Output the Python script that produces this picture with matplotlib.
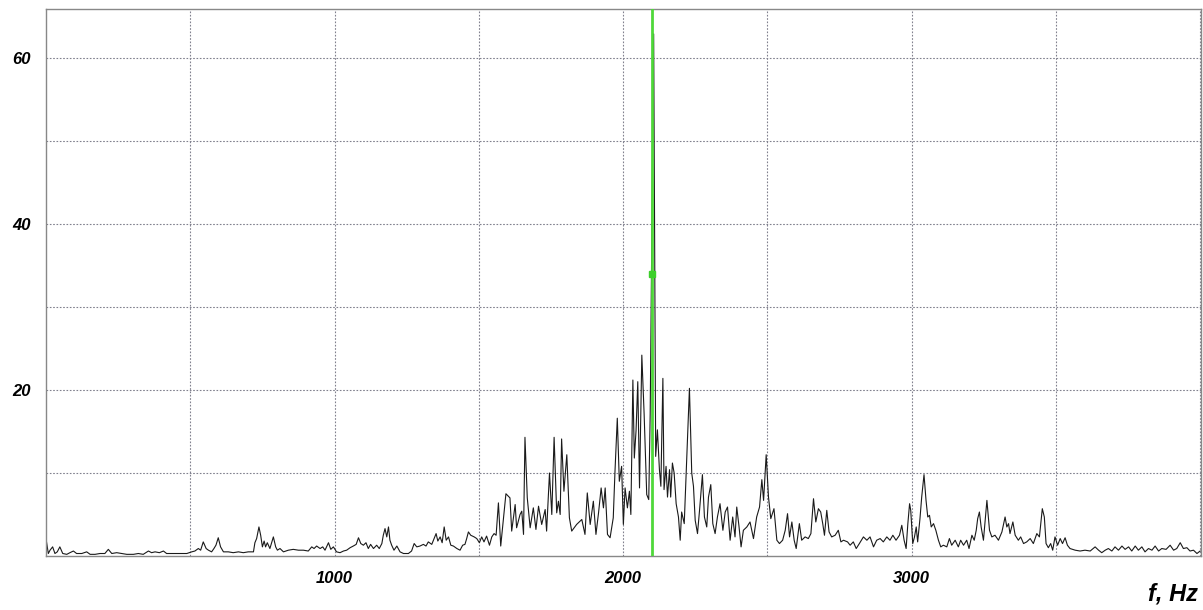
import numpy as np
import matplotlib
matplotlib.use("Agg")
import matplotlib.pyplot as plt

# spectrum vertices (Hz, amplitude), in pieces
f_low = [0, 8, 14, 23, 31, 39, 48, 58, 72, 83, 95, 106, 124, 141, 153, 170, 187, 204,
         216, 228, 245, 262, 280, 303, 320, 337, 355, 366, 378, 393, 407, 418, 436, 453,
         470, 488, 505, 516, 528, 536, 545, 555, 563, 574, 582, 589, 597, 605, 615, 632,
         649, 667, 684, 701, 719, 724, 730, 738, 744, 750, 756, 761, 767, 776, 788, 796,
         802, 811, 823, 840, 857, 875, 892, 909, 921, 929, 938, 950, 959, 967, 979, 987,
         996, 1007, 1019]
a_low = [2.1, 0.3, 0.7, 1.1, 0.3, 0.5, 1.1, 0.3, 0.2, 0.4, 0.6, 0.3, 0.3, 0.5, 0.2, 0.2,
         0.3, 0.3, 0.8, 0.3, 0.4, 0.3, 0.2, 0.2, 0.3, 0.2, 0.6, 0.4, 0.5, 0.4, 0.6, 0.3,
         0.3, 0.3, 0.3, 0.3, 0.5, 0.6, 0.9, 0.7, 1.7, 0.9, 0.7, 0.5, 0.9, 1.3, 2.2, 1.1,
         0.5, 0.5, 0.4, 0.5, 0.4, 0.5, 0.5, 1.6, 2.1, 3.5, 2.5, 1.1, 1.8, 1.1, 1.6, 0.9,
         2.3, 1.1, 0.7, 0.9, 0.5, 0.7, 0.8, 0.7, 0.7, 0.6, 1.1, 0.9, 1.2, 0.9, 1.1, 0.7,
         1.6, 0.8, 1.1, 0.5, 0.4]

f_rise = [1031, 1042, 1054, 1065, 1075, 1083, 1091, 1100, 1109, 1117, 1125, 1135, 1146,
          1155, 1164, 1169, 1175, 1181, 1187, 1192, 1198, 1206, 1216, 1227, 1239, 1256,
          1267, 1276, 1285, 1296, 1308, 1317, 1325, 1337, 1345, 1352, 1358, 1366, 1373,
          1380, 1387, 1395, 1403, 1412, 1424, 1435, 1444, 1452, 1458, 1464, 1472, 1484,
          1493, 1502, 1510, 1518, 1527, 1537, 1545, 1553, 1560]
a_rise = [0.6, 0.7, 1.0, 1.2, 1.4, 2.2, 1.5, 1.3, 1.6, 0.9, 1.4, 0.9, 1.3, 0.9, 1.5, 2.5,
          3.3, 2.3, 3.5, 1.9, 1.3, 0.7, 1.2, 0.5, 0.3, 0.3, 0.6, 1.5, 1.1, 1.2, 1.4, 1.2,
          1.7, 1.4, 2.1, 2.7, 1.8, 2.3, 1.6, 3.5, 1.9, 2.3, 1.3, 1.2, 0.9, 0.7, 1.3, 1.4,
          2.1, 2.9, 2.5, 2.3, 2.1, 1.6, 2.3, 1.7, 2.4, 1.3, 2.3, 2.7, 2.5]

f_peak = [1568, 1576, 1594, 1608, 1614, 1626, 1631, 1643, 1649, 1655, 1660, 1668, 1678,
          1689, 1698, 1707, 1718, 1730, 1735, 1745, 1753, 1761, 1770, 1776, 1782, 1787,
          1795, 1805, 1814, 1822, 1839, 1857, 1868, 1876, 1886, 1897, 1906, 1915, 1924,
          1932, 1938, 1946, 1955, 1966, 1972, 1980, 1987, 1995, 2001, 2007, 2015, 2022,
          2027, 2034, 2039, 2045, 2051, 2057, 2065, 2073, 2082, 2089, 2094, 2106, 2113,
          2119, 2126, 2131, 2138, 2142, 2149, 2154, 2161, 2165, 2171, 2177, 2184, 2192,
          2198, 2203, 2212, 2221, 2230, 2238, 2244, 2250, 2258, 2265, 2275, 2282, 2290,
          2296, 2304, 2311, 2319, 2327, 2336, 2346, 2354, 2362, 2371, 2380, 2388, 2394,
          2402, 2409, 2417, 2429, 2440, 2452, 2463, 2473, 2481, 2487, 2496, 2504, 2512]
a_peak = [6.4, 1.2, 7.5, 7.0, 3.0, 6.2, 3.4, 5.0, 5.4, 2.6, 14.3, 7.0, 3.4, 5.8, 3.2,
          6.0, 3.8, 5.6, 3.0, 10.0, 5.0, 14.3, 5.2, 6.6, 5.0, 14.1, 7.8, 12.2, 4.6, 3.0,
          3.8, 4.4, 2.6, 7.6, 3.8, 6.6, 2.6, 5.2, 8.2, 5.8, 8.2, 2.6, 2.2, 4.6, 10.2, 16.6,
          9.0, 10.8, 3.8, 8.2, 5.8, 7.8, 5.0, 21.2, 11.8, 15.1, 21.0, 8.2, 24.2, 17.1, 7.4,
          6.8, 17.1, 62.9, 12.0, 15.2, 10.4, 8.4, 21.4, 8.0, 10.8, 7.1, 10.4, 7.1, 11.2,
          10.0, 6.3, 4.7, 1.9, 5.3, 3.9, 12.0, 20.2, 10.0, 8.4, 4.3, 2.7, 5.5, 9.8, 4.7,
          3.5, 7.1, 8.6, 3.9, 2.7, 4.7, 6.3, 3.1, 5.3, 5.9, 1.9, 4.7, 2.3, 5.9, 3.5, 1.1,
          3.1, 3.5, 4.1, 2.1, 4.7, 5.9, 9.2, 6.7, 12.2, 7.1, 4.5]

f_tail = [2523, 2533, 2542, 2553, 2562, 2570, 2577, 2585, 2593, 2600, 2611, 2619, 2631,
          2642, 2651, 2660, 2668, 2677, 2685, 2692, 2698, 2706, 2714, 2723, 2735, 2746,
          2755, 2764, 2778, 2787, 2798, 2808, 2819, 2833, 2845, 2856, 2868, 2879, 2891,
          2902, 2914, 2925, 2935, 2946, 2958, 2966, 2974, 2981, 2987, 2993, 2997, 3004,
          3010, 3016, 3021, 3029, 3035, 3043, 3050, 3056, 3062, 3068, 3076, 3084, 3093,
          3101, 3110, 3122, 3131, 3139, 3151, 3162, 3170, 3180, 3191, 3199, 3209, 3217,
          3224, 3229, 3235, 3241, 3249, 3261, 3270, 3278, 3289, 3301, 3313, 3324, 3330,
          3336, 3341, 3351, 3359, 3370, 3378, 3388, 3399, 3411, 3422, 3434, 3443, 3453,
          3460, 3466, 3474, 3482, 3489, 3497, 3506, 3515, 3523, 3532, 3540, 3549]
a_tail = [5.7, 1.9, 1.5, 1.9, 3.1, 5.1, 2.3, 4.1, 1.9, 0.9, 3.9, 1.9, 2.3, 2.1, 2.7, 6.9,
          4.1, 5.7, 5.3, 3.9, 2.5, 5.5, 2.9, 2.3, 2.5, 3.1, 1.7, 1.9, 1.7, 1.3, 1.7, 0.9,
          1.5, 2.3, 1.9, 2.3, 1.1, 1.9, 2.1, 1.7, 2.3, 1.9, 2.5, 1.9, 2.5, 3.7, 1.9, 0.9,
          3.9, 6.3, 5.5, 1.5, 2.3, 3.5, 1.7, 4.5, 7.1, 9.8, 6.7, 4.7, 4.9, 3.5, 3.9, 3.1,
          1.9, 1.1, 1.3, 1.1, 2.1, 1.3, 1.9, 1.1, 1.9, 1.3, 1.9, 0.9, 2.5, 1.9, 3.1, 4.5,
          5.3, 3.5, 1.9, 6.7, 3.1, 2.3, 2.5, 1.9, 2.9, 4.7, 3.5, 3.9, 2.7, 4.1, 2.5, 1.9,
          2.3, 1.5, 1.7, 2.1, 1.5, 2.7, 2.3, 5.7, 4.7, 1.5, 1.0, 1.5, 0.7, 2.3, 1.3, 2.1,
          1.5, 2.2, 1.3, 0.9]

f_noise = [3567, 3584, 3601, 3619, 3636, 3648, 3659, 3671, 3682, 3694, 3705, 3717, 3729,
           3740, 3752, 3763, 3775, 3786, 3798, 3809, 3821, 3833, 3844, 3856, 3867, 3882,
           3896, 3908, 3919, 3931, 3942, 3954, 3965, 3977, 3989, 4000]
a_noise = [0.7, 0.6, 0.7, 0.6, 1.1, 0.7, 0.4, 0.7, 0.9, 0.6, 1.1, 0.7, 1.2, 0.8, 1.1, 0.6,
           1.2, 0.7, 1.1, 0.5, 0.9, 0.7, 1.2, 0.6, 0.9, 0.8, 1.3, 0.7, 0.9, 1.6, 0.9, 1.0,
           0.6, 0.7, 0.3, 0.6]

x_labels = [1000, 2000, 3000]
y_labels = [20, 40, 60]
cursor_f = 2101
cursor_a = 34.0

freq = np.concatenate([f_low, f_rise, f_peak, f_tail, f_noise])
amp = np.concatenate([a_low, a_rise, a_peak, a_tail, a_noise])

fig = plt.figure(figsize=(12.03, 6.10), dpi=100)
ax = fig.add_axes([46 / 1203, 54 / 610, 1155 / 1203, 547 / 610])

ax.plot(freq, amp, color="#1a1a1a", lw=0.8)
ax.axvline(cursor_f, color="#4fd83a", lw=2.0, zorder=3)
ax.plot([cursor_f], [cursor_a], "s", color="#3ccf2a", ms=4, zorder=4)

ax.set_xlim(0, 4003)
ax.set_ylim(0, 65.9)
xt = np.arange(500, 4001, 500)
yt = np.arange(10, 61, 10)
ax.set_xticks(xt)
ax.set_yticks(yt)
ax.set_xticklabels([str(v) if v in x_labels else "" for v in xt])
ax.set_yticklabels([str(v) if v in y_labels else "" for v in yt])
ax.tick_params(length=0, labelsize=12)
ax.tick_params(axis="x", pad=11)
ax.tick_params(axis="y", pad=11)
for lab in ax.get_xticklabels() + ax.get_yticklabels():
    lab.set_fontfamily("Liberation Sans")
    lab.set_fontweight("bold")
    lab.set_fontstyle("italic")

ax.grid(True, linestyle=(0, (1.5, 1.5)), color="#80808e", lw=0.8)
for s in ax.spines.values():
    s.set_color("#888888")
    s.set_linewidth(1.0)

fig.text(0.996, 0.008, "f, Hz", ha="right", va="bottom", fontsize=17,
         fontfamily="Liberation Sans", fontweight="bold", fontstyle="italic")

fig.savefig("out.png", dpi=100)
